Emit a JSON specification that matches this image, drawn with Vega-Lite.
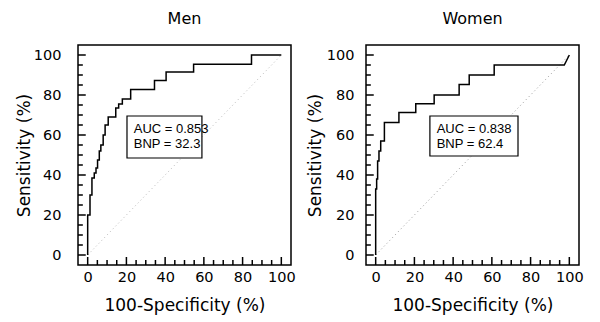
{
  "$schema": "https://vega.github.io/schema/vega-lite/v6.json",
  "background": "white",
  "padding": {"left": 14, "top": 10, "right": 5, "bottom": 3},
  "spacing": 9,
  "datasets": {
    "roc": [
      {"sex": "Men", "i": 0, "fpr": 0, "sens": 0},
      {"sex": "Men", "i": 1, "fpr": 0, "sens": 20},
      {"sex": "Men", "i": 2, "fpr": 1.2, "sens": 20},
      {"sex": "Men", "i": 3, "fpr": 1.2, "sens": 30},
      {"sex": "Men", "i": 4, "fpr": 2.2, "sens": 30},
      {"sex": "Men", "i": 5, "fpr": 2.2, "sens": 38.5},
      {"sex": "Men", "i": 6, "fpr": 3.4, "sens": 38.5},
      {"sex": "Men", "i": 7, "fpr": 3.4, "sens": 41},
      {"sex": "Men", "i": 8, "fpr": 4.3, "sens": 41},
      {"sex": "Men", "i": 9, "fpr": 4.3, "sens": 43.5},
      {"sex": "Men", "i": 10, "fpr": 5.1, "sens": 43.5},
      {"sex": "Men", "i": 11, "fpr": 5.1, "sens": 47.5},
      {"sex": "Men", "i": 12, "fpr": 6, "sens": 47.5},
      {"sex": "Men", "i": 13, "fpr": 6, "sens": 52},
      {"sex": "Men", "i": 14, "fpr": 6.8, "sens": 52},
      {"sex": "Men", "i": 15, "fpr": 6.8, "sens": 55},
      {"sex": "Men", "i": 16, "fpr": 8, "sens": 55},
      {"sex": "Men", "i": 17, "fpr": 8, "sens": 60},
      {"sex": "Men", "i": 18, "fpr": 9, "sens": 60},
      {"sex": "Men", "i": 19, "fpr": 9, "sens": 65},
      {"sex": "Men", "i": 20, "fpr": 10.6, "sens": 65},
      {"sex": "Men", "i": 21, "fpr": 10.6, "sens": 69},
      {"sex": "Men", "i": 22, "fpr": 14.5, "sens": 69},
      {"sex": "Men", "i": 23, "fpr": 14.5, "sens": 73.5},
      {"sex": "Men", "i": 24, "fpr": 16, "sens": 73.5},
      {"sex": "Men", "i": 25, "fpr": 16, "sens": 75.5},
      {"sex": "Men", "i": 26, "fpr": 17.9, "sens": 75.5},
      {"sex": "Men", "i": 27, "fpr": 17.9, "sens": 78},
      {"sex": "Men", "i": 28, "fpr": 22.2, "sens": 78},
      {"sex": "Men", "i": 29, "fpr": 22.2, "sens": 82.7},
      {"sex": "Men", "i": 30, "fpr": 34.5, "sens": 82.7},
      {"sex": "Men", "i": 31, "fpr": 34.5, "sens": 87.2},
      {"sex": "Men", "i": 32, "fpr": 40.5, "sens": 87.2},
      {"sex": "Men", "i": 33, "fpr": 40.5, "sens": 91.5},
      {"sex": "Men", "i": 34, "fpr": 54.7, "sens": 91.5},
      {"sex": "Men", "i": 35, "fpr": 54.7, "sens": 95.4},
      {"sex": "Men", "i": 36, "fpr": 84.6, "sens": 95.4},
      {"sex": "Men", "i": 37, "fpr": 84.6, "sens": 100},
      {"sex": "Men", "i": 38, "fpr": 100, "sens": 100},
      {"sex": "Women", "i": 0, "fpr": 0, "sens": 0},
      {"sex": "Women", "i": 1, "fpr": 0, "sens": 33},
      {"sex": "Women", "i": 2, "fpr": 0.5, "sens": 33},
      {"sex": "Women", "i": 3, "fpr": 0.5, "sens": 38},
      {"sex": "Women", "i": 4, "fpr": 1, "sens": 38},
      {"sex": "Women", "i": 5, "fpr": 1, "sens": 47},
      {"sex": "Women", "i": 6, "fpr": 1.7, "sens": 47},
      {"sex": "Women", "i": 7, "fpr": 1.7, "sens": 52},
      {"sex": "Women", "i": 8, "fpr": 2.6, "sens": 52},
      {"sex": "Women", "i": 9, "fpr": 2.6, "sens": 57},
      {"sex": "Women", "i": 10, "fpr": 4.5, "sens": 57},
      {"sex": "Women", "i": 11, "fpr": 4.5, "sens": 66.3},
      {"sex": "Women", "i": 12, "fpr": 12, "sens": 66.3},
      {"sex": "Women", "i": 13, "fpr": 12, "sens": 71.2},
      {"sex": "Women", "i": 14, "fpr": 20.7, "sens": 71.2},
      {"sex": "Women", "i": 15, "fpr": 20.7, "sens": 75.6},
      {"sex": "Women", "i": 16, "fpr": 30.2, "sens": 75.6},
      {"sex": "Women", "i": 17, "fpr": 30.2, "sens": 80},
      {"sex": "Women", "i": 18, "fpr": 43.1, "sens": 80},
      {"sex": "Women", "i": 19, "fpr": 43.1, "sens": 85.3},
      {"sex": "Women", "i": 20, "fpr": 48.3, "sens": 85.3},
      {"sex": "Women", "i": 21, "fpr": 48.3, "sens": 90},
      {"sex": "Women", "i": 22, "fpr": 61.2, "sens": 90},
      {"sex": "Women", "i": 23, "fpr": 61.2, "sens": 95},
      {"sex": "Women", "i": 24, "fpr": 97.4, "sens": 95},
      {"sex": "Women", "i": 25, "fpr": 100, "sens": 100}
    ],
    "diag": [
      {"i": 0, "fpr": 0, "sens": 0},
      {"i": 1, "fpr": 100, "sens": 100}
    ],
    "ticks": [
      {"v": 0}, {"v": 5}, {"v": 10}, {"v": 15}, {"v": 20}, {"v": 25}, {"v": 30},
      {"v": 35}, {"v": 40}, {"v": 45}, {"v": 50}, {"v": 55}, {"v": 60}, {"v": 65},
      {"v": 70}, {"v": 75}, {"v": 80}, {"v": 85}, {"v": 90}, {"v": 95}, {"v": 100}
    ],
    "box": [
      {"sex": "Men", "fpr": 20.3, "fpr2": 59, "sens": 69.5, "sens2": 48.5},
      {"sex": "Women", "fpr": 28, "fpr2": 73.5, "sens": 69.5, "sens2": 49.5}
    ],
    "note": [
      {"sex": "Men", "fpr": 23.8, "sens": 63.1, "label": "AUC = 0.853"},
      {"sex": "Men", "fpr": 23.8, "sens": 55.6, "label": "BNP = 32.3"},
      {"sex": "Women", "fpr": 31.5, "sens": 62.8, "label": "AUC = 0.838"},
      {"sex": "Women", "fpr": 31.5, "sens": 55.3, "label": "BNP = 62.4"}
    ]
  },
  "hconcat": [
    {
      "width": 213,
      "height": 220,
      "title": "Men",
      "resolve": {"axis": {"x": "independent", "y": "independent"}},
      "layer": [
        {"data": {"name": "diag"},
         "mark": {"type": "line", "color": "#b8b8b8", "strokeDash": [1, 3], "strokeWidth": 1},
         "encoding": {
           "x": {"field": "fpr", "type": "quantitative", "scale": {"domain": [-5, 105], "nice": false, "zero": false}, "axis": null},
           "y": {"field": "sens", "type": "quantitative", "scale": {"domain": [-5, 105], "nice": false, "zero": false}, "axis": null},
           "order": {"field": "i"}}},
        {"data": {"name": "ticks"},
         "transform": [{"filter": "datum.v % 20 === 0"}],
         "mark": {"type": "rule", "color": "black", "strokeWidth": 1.5},
         "encoding": {
           "x": {"field": "v", "type": "quantitative", "axis": null},
           "y": {"datum": -5, "type": "quantitative", "axis": null},
           "y2": {"datum": -1}}},
        {"data": {"name": "ticks"},
         "transform": [{"filter": "datum.v % 20 !== 0"}],
         "mark": {"type": "rule", "color": "black", "strokeWidth": 1.5},
         "encoding": {
           "x": {"field": "v", "type": "quantitative", "axis": null},
           "y": {"datum": -5, "type": "quantitative", "axis": null},
           "y2": {"datum": -2.5}}},
        {"data": {"name": "ticks"},
         "transform": [{"filter": "datum.v % 20 === 0"}],
         "mark": {"type": "rule", "color": "black", "strokeWidth": 1.5},
         "encoding": {
           "y": {"field": "v", "type": "quantitative", "axis": null},
           "x": {"datum": -5, "type": "quantitative", "axis": null},
           "x2": {"datum": -1}}},
        {"data": {"name": "ticks"},
         "transform": [{"filter": "datum.v % 20 !== 0"}],
         "mark": {"type": "rule", "color": "black", "strokeWidth": 1.5},
         "encoding": {
           "y": {"field": "v", "type": "quantitative", "axis": null},
           "x": {"datum": -5, "type": "quantitative", "axis": null},
           "x2": {"datum": -2.5}}},
        {"data": {"name": "roc"},
         "transform": [{"filter": "datum.sex === 'Men'"}],
         "mark": {"type": "line", "color": "black", "strokeWidth": 1.5},
         "encoding": {
           "x": {"field": "fpr", "type": "quantitative", "scale": {"domain": [-5, 105], "nice": false, "zero": false},
             "axis": {"orient": "bottom", "ticks": false, "values": [0,20,40,60,80,100], "labelPadding": 5, "titlePadding": 14, "title": "100-Specificity (%)"}},
           "y": {"field": "sens", "type": "quantitative", "scale": {"domain": [-5, 105], "nice": false, "zero": false},
             "axis": {"orient": "left", "ticks": false, "values": [0,20,40,60,80,100], "labelPadding": 17, "titlePadding": 0, "title": "Sensitivity (%)"}},
           "order": {"field": "i"}}},
        {"data": {"name": "box"},
         "transform": [{"filter": "datum.sex === 'Men'"}],
         "mark": {"type": "rect", "fill": "white", "stroke": "black", "strokeWidth": 1.2},
         "encoding": {
           "x": {"field": "fpr", "type": "quantitative", "axis": null},
           "y": {"field": "sens", "type": "quantitative", "axis": null},
           "x2": {"field": "fpr2"}, "y2": {"field": "sens2"}}},
        {"data": {"name": "note"},
         "transform": [{"filter": "datum.sex === 'Men'"}],
         "mark": {"type": "text", "align": "left", "baseline": "middle", "font": "Liberation Sans", "fontSize": 13, "color": "black"},
         "encoding": {
           "x": {"field": "fpr", "type": "quantitative", "axis": null},
           "y": {"field": "sens", "type": "quantitative", "axis": null},
           "text": {"field": "label"}}}
      ]
    },
    {
      "width": 213,
      "height": 220,
      "title": "Women",
      "resolve": {"axis": {"x": "independent", "y": "independent"}},
      "layer": [
        {"data": {"name": "diag"},
         "mark": {"type": "line", "color": "#999999", "strokeDash": [1, 3], "strokeWidth": 1},
         "encoding": {
           "x": {"field": "fpr", "type": "quantitative", "scale": {"domain": [-5, 105], "nice": false, "zero": false}, "axis": null},
           "y": {"field": "sens", "type": "quantitative", "scale": {"domain": [-5, 105], "nice": false, "zero": false}, "axis": null},
           "order": {"field": "i"}}},
        {"data": {"name": "ticks"},
         "transform": [{"filter": "datum.v % 20 === 0"}],
         "mark": {"type": "rule", "color": "black", "strokeWidth": 1.5},
         "encoding": {
           "x": {"field": "v", "type": "quantitative", "axis": null},
           "y": {"datum": -5, "type": "quantitative", "axis": null},
           "y2": {"datum": -1}}},
        {"data": {"name": "ticks"},
         "transform": [{"filter": "datum.v % 20 !== 0"}],
         "mark": {"type": "rule", "color": "black", "strokeWidth": 1.5},
         "encoding": {
           "x": {"field": "v", "type": "quantitative", "axis": null},
           "y": {"datum": -5, "type": "quantitative", "axis": null},
           "y2": {"datum": -2.5}}},
        {"data": {"name": "ticks"},
         "transform": [{"filter": "datum.v % 20 === 0"}],
         "mark": {"type": "rule", "color": "black", "strokeWidth": 1.5},
         "encoding": {
           "y": {"field": "v", "type": "quantitative", "axis": null},
           "x": {"datum": -5, "type": "quantitative", "axis": null},
           "x2": {"datum": -1}}},
        {"data": {"name": "ticks"},
         "transform": [{"filter": "datum.v % 20 !== 0"}],
         "mark": {"type": "rule", "color": "black", "strokeWidth": 1.5},
         "encoding": {
           "y": {"field": "v", "type": "quantitative", "axis": null},
           "x": {"datum": -5, "type": "quantitative", "axis": null},
           "x2": {"datum": -2.5}}},
        {"data": {"name": "roc"},
         "transform": [{"filter": "datum.sex === 'Women'"}],
         "mark": {"type": "line", "color": "black", "strokeWidth": 1.5},
         "encoding": {
           "x": {"field": "fpr", "type": "quantitative", "scale": {"domain": [-5, 105], "nice": false, "zero": false},
             "axis": {"orient": "bottom", "ticks": false, "values": [0,20,40,60,80,100], "labelPadding": 5, "titlePadding": 14, "title": "100-Specificity (%)"}},
           "y": {"field": "sens", "type": "quantitative", "scale": {"domain": [-5, 105], "nice": false, "zero": false},
             "axis": {"orient": "left", "ticks": false, "values": [0,20,40,60,80,100], "labelPadding": 12, "titlePadding": 2, "title": "Sensitivity (%)"}},
           "order": {"field": "i"}}},
        {"data": {"name": "box"},
         "transform": [{"filter": "datum.sex === 'Women'"}],
         "mark": {"type": "rect", "fill": "white", "stroke": "black", "strokeWidth": 1.2},
         "encoding": {
           "x": {"field": "fpr", "type": "quantitative", "axis": null},
           "y": {"field": "sens", "type": "quantitative", "axis": null},
           "x2": {"field": "fpr2"}, "y2": {"field": "sens2"}}},
        {"data": {"name": "note"},
         "transform": [{"filter": "datum.sex === 'Women'"}],
         "mark": {"type": "text", "align": "left", "baseline": "middle", "font": "Liberation Sans", "fontSize": 13, "color": "black"},
         "encoding": {
           "x": {"field": "fpr", "type": "quantitative", "axis": null},
           "y": {"field": "sens", "type": "quantitative", "axis": null},
           "text": {"field": "label"}}}
      ]
    }
  ],
  "config": {
    "view": {"stroke": "black", "strokeWidth": 1.5},
    "axis": {
      "grid": false,
      "domain": false,
      "labelFont": "DejaVu Sans",
      "labelFontSize": 14.5,
      "labelColor": "black",
      "titleFont": "DejaVu Sans",
      "titleFontSize": 17,
      "titleFontWeight": "normal",
      "titleColor": "black"
    },
    "axisY": {"labelAlign": "right"},
    "title": {"font": "DejaVu Sans", "fontSize": 16, "fontWeight": "normal", "color": "black", "offset": 18}
  }
}
